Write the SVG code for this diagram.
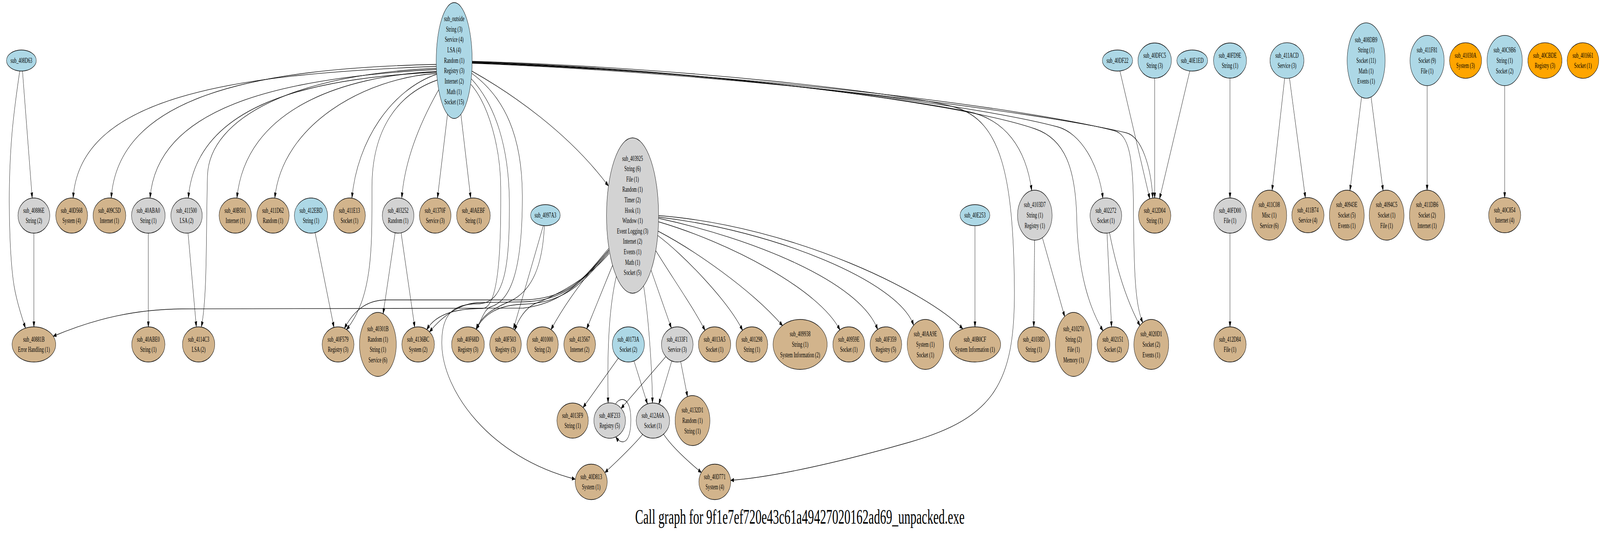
<svg xmlns="http://www.w3.org/2000/svg" width="7033" height="1370" viewBox="0 0 7033 1370" preserveAspectRatio="none">
<style>
@media (max-width:7000px){svg{width:100%;height:100%}}
.b{fill:#add8e6}.g{fill:#d3d3d3}.t{fill:#d2b48c}.o{fill:#ffa500}
ellipse{stroke:#000;stroke-width:1.33}
text{font-family:"Liberation Serif","Times New Roman",serif;font-size:18.67px;text-anchor:middle;fill:#000}
.title{font-size:53.33px}
.e path{fill:none;stroke:#000;stroke-width:1.33;marker-end:url(#a)}
</style>
<defs>
<marker id="a" markerUnits="userSpaceOnUse" markerWidth="15" markerHeight="11" refX="13.3" refY="4.7" orient="auto" overflow="visible"><path d="M0,0 L13.3,4.7 L0,9.4 Z" fill="#000" stroke="#000" stroke-width="1"/></marker>
</defs>
<rect width="7033" height="1370" fill="#fff"/>
<g id="connectors" class="e">
<path d="M98.7,181 L141.5,507"/>
<path d="M87,181 Q62,280 53,340 Q44,400 41.5,471 Q39,542 44.5,616 Q50,690 62,732.5 Q74,775 112,840"/>
<path d="M149,597 L149,837"/>
<path d="M652,597 L652,837"/>
<path d="M826.6,597 L863,837"/>
<path d="M1918,175 C1300,190 920,300 912,450 C905,600 912,760 885,837"/>
<path d="M1918,165 C1100,175 520,250 489,507"/>
<path d="M1918,170 C1000,190 350,250 321.5,507"/>
<path d="M1918.5,178 C1200,200 690,280 659.7,507"/>
<path d="M1919,185 C1350,200 860,270 828,507"/>
<path d="M1919,183 C1500,195 1080,280 1041.5,507"/>
<path d="M1920,188 C1600,200 1240,320 1208,507"/>
<path d="M1920,190 C1720,230 1570,360 1547,507"/>
<path d="M1922,205 C1750,240 1635,330 1635,480 C1635,630 1640,760 1523,844"/>
<path d="M1928,230 C1860,300 1780,400 1766,507"/>
<path d="M1967,293 L1923,507"/>
<path d="M2026,293 L2069,507"/>
<path d="M2074,182 C2250,240 2500,340 2674,476"/>
<path d="M2070,216 C2150,270 2200,380 2201,480 C2202,600 2200,790 2120,790 C2020,790 1920,800 1876,844"/>
<path d="M2072,202 C2180,270 2238,380 2239,520 C2240,680 2220,778 2100,778 C2000,778 1940,800 1942,880 C1944,1000 2150,1170 2528,1227"/>
<path d="M2074,188 C2220,250 2295,350 2296,500 C2297,700 2240,770 2160,785 C2130,790 2120,815 2093,843"/>
<path d="M2677,640 C2580,700 2500,775 2300,789 L800,791 C600,792 420,815 234,861"/>
<path d="M2676,636 C2580,700 2520,765 2300,768 L1700,768 C1620,768 1560,790 1514,841"/>
<path d="M2677,643 C2580,706 2500,771 2300,773 L2100,775 C2030,777 1950,805 1888,850"/>
<path d="M2677,646 C2580,710 2500,776 2300,779 C2200,781 2130,800 2094,843"/>
<path d="M2678,649 C2580,716 2450,755 2350,778 C2310,790 2280,815 2262,846"/>
<path d="M2676,640 C2600,690 2500,760 2422,844"/>
<path d="M2692,680 L2579,842"/>
<path d="M2709,708 C2680,780 2668,880 2673,1032"/>
<path d="M2829,732 C2848,800 2866,930 2868,1032"/>
<path d="M2862,692 L2951,840"/>
<path d="M2882.6,642 C2960,715 3050,790 3099,846"/>
<path d="M2891,603 C3000,650 3200,770 3264,846"/>
<path d="M2893,592 C3050,640 3300,740 3440,834"/>
<path d="M2895,568 C3200,620 3600,740 3692,845"/>
<path d="M2895,559 C3300,610 3780,720 3858,844"/>
<path d="M2895,556 C3400,590 3950,720 4016,833"/>
<path d="M2895,552 C3500,580 4080,750 4232,842"/>
<path d="M2075,157 C3000,172 4000,240 4200,275 C4400,310 4455,450 4459,743 C4461,980 4370,1070 4000,1132 C3700,1182 3400,1222 3212,1230"/>
<path d="M2075,158 C3000,176 3900,245 4250,285 C4420,305 4510,380 4535,488"/>
<path d="M2075,159 C3100,180 4200,260 4550,330 C4680,356 4728,430 4733,560 C4738,700 4790,790 4848,847"/>
<path d="M2075,160 C3200,184 4300,270 4650,325 C4750,341 4830,420 4848,508"/>
<path d="M2075,161 C3300,188 4500,275 4900,335 C4960,345 4980,400 4982,520 C4984,700 4990,780 5023,826"/>
<path d="M2075,162 C3300,190 4600,290 4950,340 C5020,350 5060,430 5067,507"/>
<path d="M4922.6,181.5 L5054,509"/>
<path d="M5075.5,200 L5075.5,507"/>
<path d="M5230,181.5 L5097,509"/>
<path d="M5406.6,200 L5406.6,507"/>
<path d="M5406.6,597 L5406.6,837"/>
<path d="M4285.6,579 L4285.6,837"/>
<path d="M4547.7,615 L4544,837"/>
<path d="M4582,609 L4680,811"/>
<path d="M4866,597 L4886,837"/>
<path d="M4877,596 Q4925,740 5011,834"/>
<path d="M5647,200 L5591.6,487.5"/>
<path d="M5668,200 L5738,506.5"/>
<path d="M5985,248 L5934,487.5"/>
<path d="M6026.6,248 L6079.5,488"/>
<path d="M6273,218.5 L6273,487"/>
<path d="M6614,218.5 L6614,506"/>
<path d="M1385,596 L1468,838.5"/>
<path d="M1737,596 L1684,803.5"/>
<path d="M1763,596 L1823,838"/>
<path d="M2388,578 L2257,842"/>
<path d="M2393,578 C2385,680 2340,745 2240,772 C2160,792 2115,810 2093,843"/>
<path d="M2718,917 L2563,1043.5"/>
<path d="M2786.6,924 L2846,1034.5"/>
<path d="M2953,924 L2896,1035"/>
<path d="M2992,926 L3022,1016"/>
<path d="M2927,913 L2730,1046"/>
<path d="M2706,1035 C2720,1018 2773,1010 2773,1075 C2773,1140 2730,1140 2707,1119"/>
<path d="M2824,1113 Q2770,1150 2659,1210"/>
<path d="M2917,1112 Q2960,1150 3083,1210"/>
</g>
<g id="sub_408D63"><ellipse class="b" cx="94" cy="155" rx="65.5" ry="27"/><text x="94" y="161">sub_408D63</text></g>
<g id="sub_outside"><ellipse class="b" cx="1996.5" cy="155" rx="79" ry="148.5"/><text x="1996.5" y="54"><tspan x="1996.5">sub_outside</tspan><tspan x="1996.5" dy="26.67">String (3)</tspan><tspan x="1996.5" dy="26.67">Service (4)</tspan><tspan x="1996.5" dy="26.67">LSA (4)</tspan><tspan x="1996.5" dy="26.67">Random (1)</tspan><tspan x="1996.5" dy="26.67">Registry (3)</tspan><tspan x="1996.5" dy="26.67">Internet (2)</tspan><tspan x="1996.5" dy="26.67">Math (1)</tspan><tspan x="1996.5" dy="26.67">Socket (15)</tspan></text></g>
<g id="sub_40DF22"><ellipse class="b" cx="4912" cy="155" rx="66.5" ry="27"/><text x="4912" y="161">sub_40DF22</text></g>
<g id="sub_40DFC5"><ellipse class="b" cx="5075.5" cy="155" rx="73.5" ry="45"/><text x="5075.5" y="147.7"><tspan x="5075.5">sub_40DFC5</tspan><tspan x="5075.5" dy="26.6">String (3)</tspan></text></g>
<g id="sub_40E1ED"><ellipse class="b" cx="5240.6" cy="155" rx="67.7" ry="27"/><text x="5240.6" y="161">sub_40E1ED</text></g>
<g id="sub_40FD9E"><ellipse class="b" cx="5406.6" cy="155" rx="72.5" ry="45"/><text x="5406.6" y="147.7"><tspan x="5406.6">sub_40FD9E</tspan><tspan x="5406.6" dy="26.6">String (1)</tspan></text></g>
<g id="sub_411ACD"><ellipse class="b" cx="5657" cy="155" rx="74.6" ry="45.6"/><text x="5657" y="147.7"><tspan x="5657">sub_411ACD</tspan><tspan x="5657" dy="26.6">Service (3)</tspan></text></g>
<g id="sub_408DB9"><ellipse class="b" cx="6005" cy="155" rx="83.5" ry="96.6"/><text x="6005" y="107.8"><tspan x="6005">sub_408DB9</tspan><tspan x="6005" dy="26.6">String (1)</tspan><tspan x="6005" dy="26.6">Socket (11)</tspan><tspan x="6005" dy="26.6">Math (1)</tspan><tspan x="6005" dy="26.6">Events (1)</tspan></text></g>
<g id="sub_411F81"><ellipse class="b" cx="6273" cy="155" rx="75" ry="64.4"/><text x="6273" y="134.4"><tspan x="6273">sub_411F81</tspan><tspan x="6273" dy="26.6">Socket (9)</tspan><tspan x="6273" dy="26.6">File (1)</tspan></text></g>
<g id="sub_41030A"><ellipse class="o" cx="6442" cy="155" rx="70.5" ry="45.6"/><text x="6442" y="147.7"><tspan x="6442">sub_41030A</tspan><tspan x="6442" dy="26.6">System (3)</tspan></text></g>
<g id="sub_40C9B6"><ellipse class="b" cx="6614" cy="155" rx="77.5" ry="64.4"/><text x="6614" y="134.4"><tspan x="6614">sub_40C9B6</tspan><tspan x="6614" dy="26.6">String (1)</tspan><tspan x="6614" dy="26.6">Socket (2)</tspan></text></g>
<g id="sub_40CBDE"><ellipse class="o" cx="6791" cy="155" rx="75" ry="45.6"/><text x="6791" y="147.7"><tspan x="6791">sub_40CBDE</tspan><tspan x="6791" dy="26.6">Registry (3)</tspan></text></g>
<g id="sub_401661"><ellipse class="o" cx="6958" cy="155" rx="69.5" ry="45.6"/><text x="6958" y="147.7"><tspan x="6958">sub_401661</tspan><tspan x="6958" dy="26.6">Socket (1)</tspan></text></g>
<g id="sub_40886E"><ellipse class="g" cx="149" cy="552" rx="70" ry="45"/><text x="149" y="544.7"><tspan x="149">sub_40886E</tspan><tspan x="149" dy="26.6">String (2)</tspan></text></g>
<g id="sub_40D568"><ellipse class="t" cx="315" cy="552" rx="70" ry="45"/><text x="315" y="544.7"><tspan x="315">sub_40D568</tspan><tspan x="315" dy="26.6">System (4)</tspan></text></g>
<g id="sub_409C5D"><ellipse class="t" cx="481" cy="552" rx="72" ry="45"/><text x="481" y="544.7"><tspan x="481">sub_409C5D</tspan><tspan x="481" dy="26.6">Internet (1)</tspan></text></g>
<g id="sub_40ABA0"><ellipse class="g" cx="652" cy="552" rx="74" ry="45"/><text x="652" y="544.7"><tspan x="652">sub_40ABA0</tspan><tspan x="652" dy="26.6">String (1)</tspan></text></g>
<g id="sub_411500"><ellipse class="g" cx="820" cy="552" rx="69" ry="45"/><text x="820" y="544.7"><tspan x="820">sub_411500</tspan><tspan x="820" dy="26.6">LSA (2)</tspan></text></g>
<g id="sub_40B501"><ellipse class="t" cx="1034" cy="552" rx="71" ry="45"/><text x="1034" y="544.7"><tspan x="1034">sub_40B501</tspan><tspan x="1034" dy="26.6">Internet (1)</tspan></text></g>
<g id="sub_411D62"><ellipse class="t" cx="1200" cy="552" rx="71" ry="45"/><text x="1200" y="544.7"><tspan x="1200">sub_411D62</tspan><tspan x="1200" dy="26.6">Random (1)</tspan></text></g>
<g id="sub_412EBD"><ellipse class="b" cx="1367" cy="552" rx="73" ry="45"/><text x="1367" y="544.7"><tspan x="1367">sub_412EBD</tspan><tspan x="1367" dy="26.6">String (1)</tspan></text></g>
<g id="sub_411E13"><ellipse class="t" cx="1536" cy="552" rx="70" ry="45"/><text x="1536" y="544.7"><tspan x="1536">sub_411E13</tspan><tspan x="1536" dy="26.6">Socket (1)</tspan></text></g>
<g id="sub_403252"><ellipse class="g" cx="1750" cy="552" rx="69.5" ry="45"/><text x="1750" y="544.7"><tspan x="1750">sub_403252</tspan><tspan x="1750" dy="26.6">Random (1)</tspan></text></g>
<g id="sub_41370F"><ellipse class="t" cx="1913" cy="552" rx="69.5" ry="45"/><text x="1913" y="544.7"><tspan x="1913">sub_41370F</tspan><tspan x="1913" dy="26.6">Service (3)</tspan></text></g>
<g id="sub_40AEBF"><ellipse class="t" cx="2081" cy="552" rx="74" ry="45"/><text x="2081" y="544.7"><tspan x="2081">sub_40AEBF</tspan><tspan x="2081" dy="26.6">String (1)</tspan></text></g>
<g id="sub_4097A3"><ellipse class="b" cx="2397.5" cy="551" rx="65" ry="27"/><text x="2397.5" y="557">sub_4097A3</text></g>
<g id="sub_403925"><ellipse class="g" cx="2780.5" cy="552" rx="114.5" ry="199"/><text x="2780.5" y="411.7"><tspan x="2780.5">sub_403925</tspan><tspan x="2780.5" dy="26.6">String (6)</tspan><tspan x="2780.5" dy="26.6">File (1)</tspan><tspan x="2780.5" dy="26.6">Random (1)</tspan><tspan x="2780.5" dy="26.6">Timer (2)</tspan><tspan x="2780.5" dy="26.6">Hook (1)</tspan><tspan x="2780.5" dy="26.6">Window (1)</tspan><tspan x="2780.5" dy="26.6">Event Logging (3)</tspan><tspan x="2780.5" dy="26.6">Internet (2)</tspan><tspan x="2780.5" dy="26.6">Events (1)</tspan><tspan x="2780.5" dy="26.6">Math (1)</tspan><tspan x="2780.5" dy="26.6">Socket (5)</tspan></text></g>
<g id="sub_40E253"><ellipse class="b" cx="4285.6" cy="551" rx="65.5" ry="27"/><text x="4285.6" y="557">sub_40E253</text></g>
<g id="sub_4103D7"><ellipse class="g" cx="4548.6" cy="551" rx="76" ry="64"/><text x="4548.6" y="530.4"><tspan x="4548.6">sub_4103D7</tspan><tspan x="4548.6" dy="26.6">String (1)</tspan><tspan x="4548.6" dy="26.6">Registry (1)</tspan></text></g>
<g id="sub_402272"><ellipse class="g" cx="4861" cy="552" rx="69.5" ry="45"/><text x="4861" y="544.7"><tspan x="4861">sub_402272</tspan><tspan x="4861" dy="26.6">Socket (1)</tspan></text></g>
<g id="sub_412D04"><ellipse class="t" cx="5075.5" cy="552" rx="71" ry="45"/><text x="5075.5" y="544.7"><tspan x="5075.5">sub_412D04</tspan><tspan x="5075.5" dy="26.6">String (1)</tspan></text></g>
<g id="sub_40FD00"><ellipse class="g" cx="5406.6" cy="552" rx="71.6" ry="45"/><text x="5406.6" y="544.7"><tspan x="5406.6">sub_40FD00</tspan><tspan x="5406.6" dy="26.6">File (1)</tspan></text></g>
<g id="sub_411C08"><ellipse class="t" cx="5579" cy="551" rx="76.8" ry="64"/><text x="5579" y="530.4"><tspan x="5579">sub_411C08</tspan><tspan x="5579" dy="26.6">Misc (1)</tspan><tspan x="5579" dy="26.6">Service (6)</tspan></text></g>
<g id="sub_411B74"><ellipse class="t" cx="5749" cy="551" rx="70.8" ry="45"/><text x="5749" y="543.7"><tspan x="5749">sub_411B74</tspan><tspan x="5749" dy="26.6">Service (4)</tspan></text></g>
<g id="sub_40943E"><ellipse class="t" cx="5920" cy="551" rx="76.5" ry="64"/><text x="5920" y="530.4"><tspan x="5920">sub_40943E</tspan><tspan x="5920" dy="26.6">Socket (5)</tspan><tspan x="5920" dy="26.6">Events (1)</tspan></text></g>
<g id="sub_4094C5"><ellipse class="t" cx="6095" cy="551" rx="76.5" ry="64"/><text x="6095" y="530.4"><tspan x="6095">sub_4094C5</tspan><tspan x="6095" dy="26.6">Socket (1)</tspan><tspan x="6095" dy="26.6">File (1)</tspan></text></g>
<g id="sub_411DB6"><ellipse class="t" cx="6273" cy="551" rx="77.5" ry="64"/><text x="6273" y="530.4"><tspan x="6273">sub_411DB6</tspan><tspan x="6273" dy="26.6">Socket (2)</tspan><tspan x="6273" dy="26.6">Internet (1)</tspan></text></g>
<g id="sub_40C854"><ellipse class="t" cx="6614" cy="551" rx="70.5" ry="45"/><text x="6614" y="543.7"><tspan x="6614">sub_40C854</tspan><tspan x="6614" dy="26.6">Internet (4)</tspan></text></g>
<g id="sub_40881B"><ellipse class="t" cx="149" cy="882" rx="96" ry="45"/><text x="149" y="874.7"><tspan x="149">sub_40881B</tspan><tspan x="149" dy="26.6">Error Handling (1)</tspan></text></g>
<g id="sub_40ABE0"><ellipse class="t" cx="652" cy="882" rx="73" ry="45"/><text x="652" y="874.7"><tspan x="652">sub_40ABE0</tspan><tspan x="652" dy="26.6">String (1)</tspan></text></g>
<g id="sub_4114C3"><ellipse class="t" cx="873" cy="882" rx="71" ry="45"/><text x="873" y="874.7"><tspan x="873">sub_4114C3</tspan><tspan x="873" dy="26.6">LSA (2)</tspan></text></g>
<g id="sub_40F579"><ellipse class="t" cx="1486" cy="882" rx="70" ry="45"/><text x="1486" y="874.7"><tspan x="1486">sub_40F579</tspan><tspan x="1486" dy="26.6">Registry (3)</tspan></text></g>
<g id="sub_40301B"><ellipse class="t" cx="1661" cy="882" rx="81" ry="82"/><text x="1661" y="848.1"><tspan x="1661">sub_40301B</tspan><tspan x="1661" dy="26.6">Random (1)</tspan><tspan x="1661" dy="26.6">String (1)</tspan><tspan x="1661" dy="26.6">Service (6)</tspan></text></g>
<g id="sub_4136BC"><ellipse class="t" cx="1838" cy="882" rx="71.6" ry="45"/><text x="1838" y="874.7"><tspan x="1838">sub_4136BC</tspan><tspan x="1838" dy="26.6">System (2)</tspan></text></g>
<g id="sub_40F68D"><ellipse class="t" cx="2057" cy="882" rx="72" ry="45"/><text x="2057" y="874.7"><tspan x="2057">sub_40F68D</tspan><tspan x="2057" dy="26.6">Registry (3)</tspan></text></g>
<g id="sub_40F503"><ellipse class="t" cx="2222" cy="882" rx="69.5" ry="45"/><text x="2222" y="874.7"><tspan x="2222">sub_40F503</tspan><tspan x="2222" dy="26.6">Registry (3)</tspan></text></g>
<g id="sub_401000"><ellipse class="t" cx="2385" cy="882" rx="69" ry="45"/><text x="2385" y="874.7"><tspan x="2385">sub_401000</tspan><tspan x="2385" dy="26.6">String (2)</tspan></text></g>
<g id="sub_413567"><ellipse class="t" cx="2548" cy="882" rx="69.5" ry="45"/><text x="2548" y="874.7"><tspan x="2548">sub_413567</tspan><tspan x="2548" dy="26.6">Internet (2)</tspan></text></g>
<g id="sub_40173A"><ellipse class="b" cx="2762" cy="882" rx="70.5" ry="45"/><text x="2762" y="874.7"><tspan x="2762">sub_40173A</tspan><tspan x="2762" dy="26.6">Socket (2)</tspan></text></g>
<g id="sub_4133F1"><ellipse class="g" cx="2977" cy="882" rx="69.5" ry="45"/><text x="2977" y="874.7"><tspan x="2977">sub_4133F1</tspan><tspan x="2977" dy="26.6">Service (3)</tspan></text></g>
<g id="sub_4013A5"><ellipse class="t" cx="3141" cy="882" rx="71" ry="45"/><text x="3141" y="874.7"><tspan x="3141">sub_4013A5</tspan><tspan x="3141" dy="26.6">Socket (1)</tspan></text></g>
<g id="sub_401298"><ellipse class="t" cx="3305" cy="882" rx="69.5" ry="45"/><text x="3305" y="874.7"><tspan x="3305">sub_401298</tspan><tspan x="3305" dy="26.6">String (1)</tspan></text></g>
<g id="sub_409938"><ellipse class="t" cx="3517" cy="882" rx="119" ry="64"/><text x="3517" y="861.4"><tspan x="3517">sub_409938</tspan><tspan x="3517" dy="26.6">String (1)</tspan><tspan x="3517" dy="26.6">System Information (2)</tspan></text></g>
<g id="sub_40959E"><ellipse class="t" cx="3731" cy="882" rx="70" ry="45"/><text x="3731" y="874.7"><tspan x="3731">sub_40959E</tspan><tspan x="3731" dy="26.6">Socket (1)</tspan></text></g>
<g id="sub_40F359"><ellipse class="t" cx="3894" cy="882" rx="69.5" ry="45"/><text x="3894" y="874.7"><tspan x="3894">sub_40F359</tspan><tspan x="3894" dy="26.6">Registry (5)</tspan></text></g>
<g id="sub_40AA9E"><ellipse class="t" cx="4067.6" cy="882" rx="80" ry="64"/><text x="4067.6" y="861.4"><tspan x="4067.6">sub_40AA9E</tspan><tspan x="4067.6" dy="26.6">System (1)</tspan><tspan x="4067.6" dy="26.6">Socket (1)</tspan></text></g>
<g id="sub_40B0CF"><ellipse class="t" cx="4285.6" cy="882" rx="113" ry="45"/><text x="4285.6" y="874.7"><tspan x="4285.6">sub_40B0CF</tspan><tspan x="4285.6" dy="26.6">System Information (1)</tspan></text></g>
<g id="sub_41038D"><ellipse class="t" cx="4544" cy="882" rx="70.8" ry="45"/><text x="4544" y="874.7"><tspan x="4544">sub_41038D</tspan><tspan x="4544" dy="26.6">String (1)</tspan></text></g>
<g id="sub_410270"><ellipse class="t" cx="4719" cy="882" rx="80" ry="82"/><text x="4719" y="848.1"><tspan x="4719">sub_410270</tspan><tspan x="4719" dy="26.6">String (2)</tspan><tspan x="4719" dy="26.6">File (1)</tspan><tspan x="4719" dy="26.6">Memory (1)</tspan></text></g>
<g id="sub_402151"><ellipse class="t" cx="4892" cy="882" rx="69.5" ry="45"/><text x="4892" y="874.7"><tspan x="4892">sub_402151</tspan><tspan x="4892" dy="26.6">Socket (2)</tspan></text></g>
<g id="sub_4020D1"><ellipse class="t" cx="5060.6" cy="882" rx="76.5" ry="64"/><text x="5060.6" y="861.4"><tspan x="5060.6">sub_4020D1</tspan><tspan x="5060.6" dy="26.6">Socket (2)</tspan><tspan x="5060.6" dy="26.6">Events (1)</tspan></text></g>
<g id="sub_412D84"><ellipse class="t" cx="5406.6" cy="882" rx="71" ry="45"/><text x="5406.6" y="874.7"><tspan x="5406.6">sub_412D84</tspan><tspan x="5406.6" dy="26.6">File (1)</tspan></text></g>
<g id="sub_4013F9"><ellipse class="t" cx="2517" cy="1077" rx="69" ry="45"/><text x="2517" y="1069.7"><tspan x="2517">sub_4013F9</tspan><tspan x="2517" dy="26.6">String (1)</tspan></text></g>
<g id="sub_40F233"><ellipse class="g" cx="2680" cy="1077" rx="69.4" ry="45.3"/><text x="2680" y="1069.7"><tspan x="2680">sub_40F233</tspan><tspan x="2680" dy="26.6">Registry (5)</tspan></text></g>
<g id="sub_412A6A"><ellipse class="g" cx="2870" cy="1077" rx="73.4" ry="45"/><text x="2870" y="1069.7"><tspan x="2870">sub_412A6A</tspan><tspan x="2870" dy="26.6">Socket (1)</tspan></text></g>
<g id="sub_4132D1"><ellipse class="t" cx="3044" cy="1077" rx="76.5" ry="64"/><text x="3044" y="1056.4"><tspan x="3044">sub_4132D1</tspan><tspan x="3044" dy="26.6">Random (1)</tspan><tspan x="3044" dy="26.6">String (1)</tspan></text></g>
<g id="sub_40D813"><ellipse class="t" cx="2598.7" cy="1234" rx="70.5" ry="45.5"/><text x="2598.7" y="1226.7"><tspan x="2598.7">sub_40D813</tspan><tspan x="2598.7" dy="26.6">System (1)</tspan></text></g>
<g id="sub_40D771"><ellipse class="t" cx="3142" cy="1234" rx="70" ry="45.5"/><text x="3142" y="1226.7"><tspan x="3142">sub_40D771</tspan><tspan x="3142" dy="26.6">System (4)</tspan></text></g>
<text class="title" x="3516" y="1341">Call graph for 9f1e7ef720e43c61a49427020162ad69_unpacked.exe</text>
</svg>
